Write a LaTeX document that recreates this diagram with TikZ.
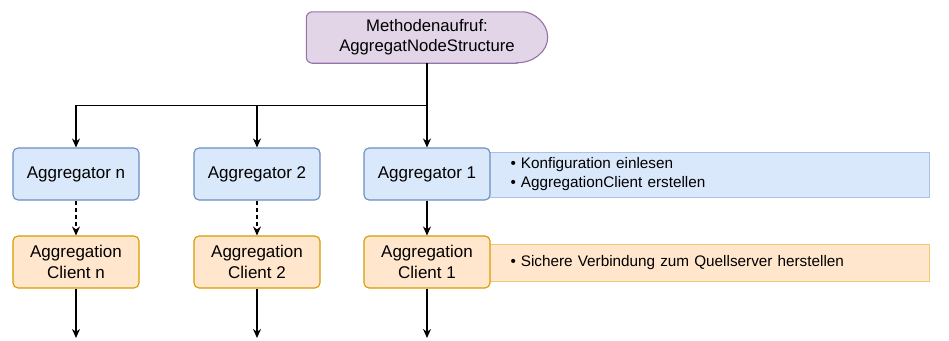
\documentclass[tikz,border=0pt]{standalone}
\usepackage{fontspec}
\setmainfont{Liberation Sans}
\usetikzlibrary{arrows.meta}

\definecolor{bluefill}{HTML}{DAE8FC}
\definecolor{bluedraw}{HTML}{6C8EBF}
\definecolor{bluenote}{HTML}{A9C0E8}
\definecolor{orangefill}{HTML}{FFE6CC}
\definecolor{orangedraw}{HTML}{D79B00}
\definecolor{orangenote}{HTML}{F0C870}
\definecolor{purplefill}{HTML}{E1D5E7}
\definecolor{purpledraw}{HTML}{9673A6}

\tikzset{
  box/.style={rounded corners=5pt, line width=1.1pt, minimum width=126pt,
    minimum height=52pt, align=center, font=\fontsize{17}{20.5}\selectfont,
    inner sep=0pt},
  aggbox/.style={box, fill=bluefill, draw=bluedraw},
  clientbox/.style={box, fill=orangefill, draw=orangedraw},
  note/.style={anchor=west, line width=1pt, inner sep=0pt, align=left,
    text width=440pt, font=\fontsize{15.3}{19}\selectfont},
  link/.style={line width=1.5pt, -{Stealth[length=9pt,width=8pt]}},
}

\begin{document}
\begin{tikzpicture}[x=1pt, y=-1pt]
  \useasboundingbox (0,0) rectangle (949,340);

  % explanatory notes beside the first aggregator and client
  \node[note, fill=bluefill, draw=bluenote, minimum height=45pt]
    (notea) at (489,174.5)
    {\hspace*{21pt}\textbullet\hspace{5pt}Konfiguration einlesen\\
     \hspace*{21pt}\textbullet\hspace{5pt}AggregationClient erstellen};
  \node[note, fill=orangefill, draw=orangenote, minimum height=37pt]
    (notec) at (489,262.5)
    {\hspace*{21pt}\textbullet\hspace{5pt}Sichere Verbindung zum Quellserver herstellen};

  % method call (delay-shaped node)
  \node[minimum width=241pt, minimum height=51pt, inner sep=0pt] (top)
    at (427,37.5) {};
  \path[fill=purplefill, draw=purpledraw, line width=1.1pt, rounded corners=6pt]
    ([xshift=-31pt]top.south east) -- (top.south west) -- (top.north west)
    -- ([xshift=-31pt]top.north east) [sharp corners]
    arc[start angle=90, end angle=-90, x radius=31pt, y radius=25.5pt] -- cycle;
  \node[align=center, font=\fontsize{16.7}{20}\selectfont] at (top)
    {Methodenaufruf:\\AggregatNodeStructure};

  % aggregators
  \node[aggbox] (agn) at (76,174) {Aggregator n};
  \node[aggbox] (ag2) at (257,174) {Aggregator 2};
  \node[aggbox] (ag1) at (427,174) {Aggregator 1};

  % aggregation clients
  \node[clientbox] (cln) at (76,262) {Aggregation\\Client n};
  \node[clientbox] (cl2) at (257,262) {Aggregation\\Client 2};
  \node[clientbox] (cl1) at (427,262) {Aggregation\\Client 1};

  % distribution from the method call
  \coordinate (hub) at (427,105.5);
  \draw[line width=1.5pt] (top.south) -- (hub);
  \draw[link] (hub) -- (ag1.north);
  \draw[link] (hub) -| (ag2.north);
  \draw[link] (hub) -| (agn.north);

  % aggregators create clients
  \draw[link, dashed, dash pattern=on 4pt off 3pt] (agn) -- (cln);
  \draw[link, dashed, dash pattern=on 4pt off 3pt] (ag2) -- (cl2);
  \draw[link] (ag1) -- (cl1);

  % outgoing connections
  \coordinate (outn) at (76,338);
  \coordinate (out2) at (257,338);
  \coordinate (out1) at (427,338);
  \draw[link] (cln) -- (outn);
  \draw[link] (cl2) -- (out2);
  \draw[link] (cl1) -- (out1);
\end{tikzpicture}
\end{document}
